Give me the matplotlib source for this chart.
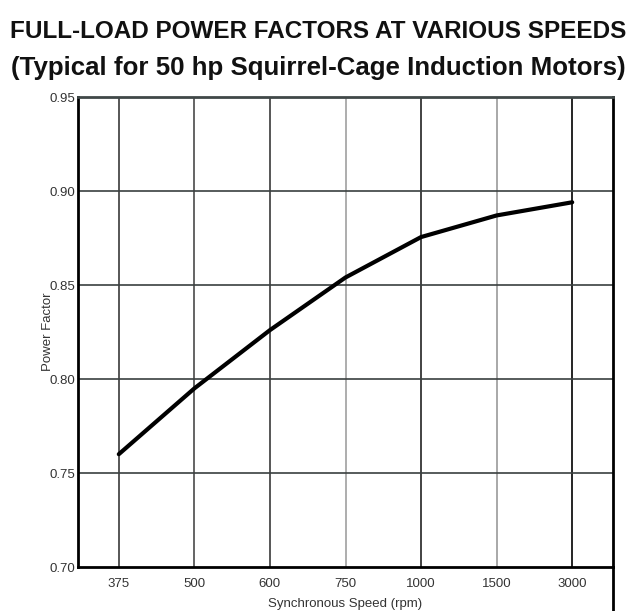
#!/usr/bin/env python

import matplotlib
matplotlib.use('Agg')
import matplotlib.pyplot as plt

# Data
speeds = ['375', '500', '600', '750', '1000', '1500', '3000']
power_factor = [0.760, 0.795, 0.826, 0.854, 0.8755, 0.887, 0.894]
y_ticks = [0.70, 0.75, 0.80, 0.85, 0.90, 0.95]

plt.rcParams['font.family'] = ['Liberation Sans', 'DejaVu Sans']

fig = plt.figure(figsize=(6.37, 6.11), dpi=100)
ax = fig.add_axes([78 / 637, 1 - 567 / 611, (613 - 78) / 637, (567 - 97) / 611])

pos = list(range(len(speeds)))

# vertical grid lines, a couple of them are lighter in the original
vcolors = ['#3a3a3a', '#4a4a4a', '#3a3a3a', '#a0a0a0', '#222222', '#9a9a9a', '#000000']
for p, c in zip(pos, vcolors):
    ax.axvline(p, color=c, lw=1.2, zorder=1)
for yv in y_ticks[1:-1]:
    ax.axhline(yv, color='#3a4040', lw=1.2, zorder=1)

ax.plot(pos, power_factor, color='black', lw=3, solid_capstyle='round',
        solid_joinstyle='round', zorder=3)

ax.set_xlim(-0.54, 6.54)
ax.set_ylim(0.70, 0.95)
ax.set_xticks(pos)
ax.set_xticklabels(speeds)
ax.set_yticks(y_ticks)
ax.set_yticklabels(['%.2f' % v for v in y_ticks])
ax.tick_params(axis='both', length=0, labelsize=9.5, labelcolor='#333333')
ax.tick_params(axis='x', pad=8)
ax.tick_params(axis='y', pad=2)

for side in ['left', 'bottom', 'right']:
    ax.spines[side].set_linewidth(2)
    ax.spines[side].set_color('black')
ax.spines['top'].set_linewidth(2)
ax.spines['top'].set_color('#404848')

# right border runs on below the plot area
ax.plot([1, 1], [0, -0.1], transform=ax.transAxes, color='black', lw=2, clip_on=False)

ax.set_xlabel('Synchronous Speed (rpm)', fontsize=9.5, color='#333333', labelpad=6)
ax.set_ylabel('Power Factor', fontsize=9.5, color='#333333', labelpad=-3)

fig.text(0.5, 1 - 31 / 611, 'FULL-LOAD POWER FACTORS AT VARIOUS SPEEDS',
         ha='center', va='center', fontsize=17.5, fontweight='bold', color='#111111')
fig.text(0.5, 1 - 68 / 611, '(Typical for 50 hp Squirrel-Cage Induction Motors)',
         ha='center', va='center', fontsize=18.6, fontweight='bold', color='#111111')

fig.savefig('out.png', dpi=100)
